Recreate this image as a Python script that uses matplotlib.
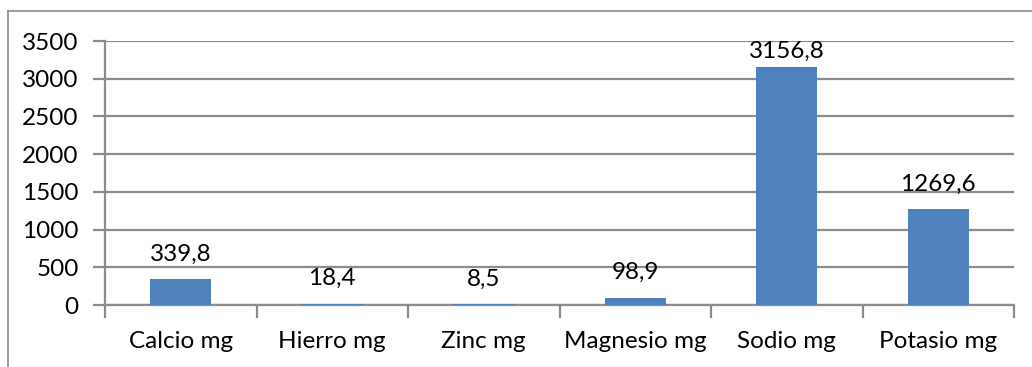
import matplotlib
matplotlib.use("Agg")
import matplotlib.pyplot as plt
from matplotlib.lines import Line2D
import numpy as np

# datos del grafico
categorias = ["Calcio mg", "Hierro mg", "Zinc mg", "Magnesio mg", "Sodio mg", "Potasio mg"]
valores = [339.8, 18.4, 8.5, 98.9, 3156.8, 1269.6]
etiquetas = ["339,8", "18,4", "8,5", "98,9", "3156,8", "1269,6"]
y_ticks = [0, 500, 1000, 1500, 2000, 2500, 3000, 3500]

plt.rcParams['font.family'] = ['Lato', 'DejaVu Sans']
gris = "#8c8c8c"
azul = "#4f81bd"
fs = 17.5

fig = plt.figure(figsize=(10.32, 3.67), dpi=100)
ax = fig.add_axes([105 / 1032, 1 - 305 / 367, (1014 - 105) / 1032, (305 - 41) / 367])

x = np.arange(len(categorias))
ax.bar(x, valores, width=0.4, color=azul, zorder=3)

ax.set_xlim(-0.5, len(categorias) - 0.5)
ax.set_ylim(0, 3500)
ax.set_yticks(y_ticks)
ax.set_yticklabels([str(t) for t in y_ticks], fontsize=fs)
ax.yaxis.grid(True, color=gris, linewidth=1.6, zorder=0)
ax.tick_params(axis="y", length=9, width=1.6, color=gris, pad=10)

ax.set_xticks(x)
ax.set_xticklabels(categorias, fontsize=fs)
ax.set_xticks(np.arange(-0.5, len(categorias)), minor=True)
ax.tick_params(axis="x", which="major", length=0, pad=19)
ax.tick_params(axis="x", which="minor", length=9, width=1.6, color=gris)

for s in ["top", "right"]:
    ax.spines[s].set_visible(False)
for s in ["left", "bottom"]:
    ax.spines[s].set_color(gris)
    ax.spines[s].set_linewidth(1.6)

# etiquetas de datos (si no caben, quedan dentro del area)
for xi, v, t in zip(x, valores, etiquetas):
    if v > 3000:
        ax.text(xi, 3500, t, ha="center", va="top", fontsize=fs)
    else:
        ax.annotate(t, (xi, v), xytext=(0, 13.5), textcoords="offset points",
                    ha="center", va="baseline", fontsize=fs)

# marco exterior
fig.add_artist(Line2D([8 / 1032, 1], [1 - 11 / 367, 1 - 11 / 367], color=gris, linewidth=1.2,
                      transform=fig.transFigure))
fig.add_artist(Line2D([8 / 1032, 8 / 1032], [0, 1 - 11 / 367], color=gris, linewidth=1.2,
                      transform=fig.transFigure))

fig.savefig("out.png", dpi=100)
